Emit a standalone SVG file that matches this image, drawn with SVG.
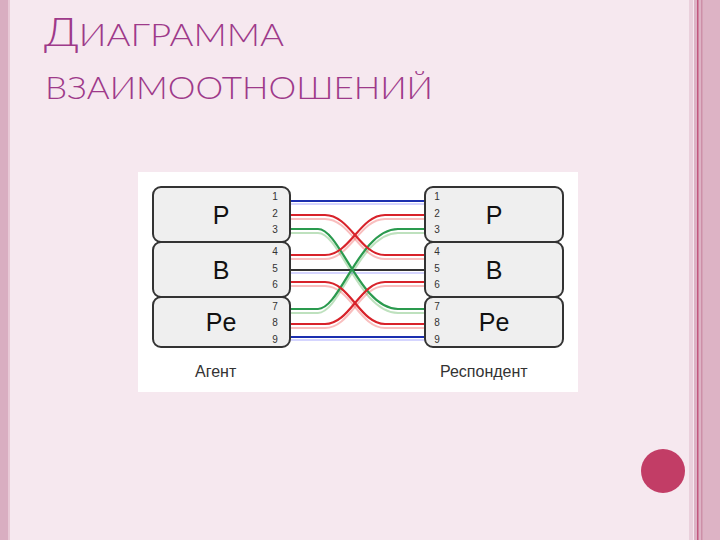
<svg xmlns="http://www.w3.org/2000/svg" width="720" height="540" viewBox="0 0 720 540">
<style>
.t{font-family:"Lato","Open Sans",sans-serif;font-weight:300;fill:#9E3A8A}
.box{fill:#EFEFEF;stroke:#333;stroke-width:2}
.big{font-family:"Liberation Sans",Arial,sans-serif;font-size:25px;fill:#111;text-anchor:middle}
.num{font-family:"Liberation Sans",Arial,sans-serif;font-size:10px;fill:#333;text-anchor:middle}
.lab{font-family:"Liberation Sans",Arial,sans-serif;font-size:16px;fill:#333}
.w{fill:none;stroke-width:2.2}
.s{fill:none;stroke-width:2;opacity:0.35}
</style>
<rect width="720" height="540" fill="#F6E8EF"/>
<rect x="0" y="0" width="8" height="540" fill="#D9AEC1"/>
<rect x="8" y="0" width="2" height="540" fill="#E8C9D6"/>
<rect x="689" y="0" width="4" height="540" fill="#EAD0DC"/>
<rect x="694" y="0" width="26" height="540" fill="#DDB3C5"/>
<rect x="697" y="0" width="1.5" height="540" fill="#C2587E"/>
<rect x="701" y="0" width="1.5" height="540" fill="#CD8FA8"/>
<circle cx="663" cy="471" r="22" fill="#C23D66"/>
<text class="t" x="44" y="46" font-size="32" textLength="240" lengthAdjust="spacingAndGlyphs"><tspan font-size="40">Д</tspan>ИАГРАММА</text>
<text class="t" x="45" y="99" font-size="32" textLength="388" lengthAdjust="spacingAndGlyphs">ВЗАИМООТНОШЕНИЙ</text>
<rect x="138" y="172" width="440" height="220" fill="#fff"/>
<g id="connectors">
<path class="s" stroke="#4a4" d="M290 233H318C340 233 360 313 398 313H425"/>
<path class="s" stroke="#4a4" d="M290 313H318C340 313 360 233 398 233H425"/>
<path class="s" stroke="#e44" d="M290 219H325C350 219 360 259 385 259H425"/>
<path class="s" stroke="#e44" d="M290 259H325C350 259 360 219 385 219H425"/>
<path class="s" stroke="#e44" d="M290 286H325C350 286 360 328 385 328H425"/>
<path class="s" stroke="#e44" d="M290 328H325C350 328 360 286 385 286H425"/>
<path class="s" stroke="#88f" d="M290 204H425M290 340H425M290 273H425"/>
<path class="w" stroke="#1B2FB0" d="M290 201H425M290 337H425"/>
<path class="w" stroke="#333" d="M290 270H425"/>
<path class="w" stroke="#2A9A4E" d="M290 229H318C340 229 360 309 398 309H425"/>
<path class="w" stroke="#2A9A4E" d="M290 309H318C340 309 360 229 398 229H425"/>
<path class="w" stroke="#D8222A" d="M290 215H325C350 215 360 255 385 255H425"/>
<path class="w" stroke="#D8222A" d="M290 255H325C350 255 360 215 385 215H425"/>
<path class="w" stroke="#D8222A" d="M290 282H325C350 282 360 324 385 324H425"/>
<path class="w" stroke="#D8222A" d="M290 324H325C350 324 360 282 385 282H425"/>
</g>
<g id="agent-P"><rect class="box" x="153" y="187" width="137" height="55" rx="8"/><text class="big" x="221" y="224">P</text>
<text class="num" x="275" y="200">1</text><text class="num" x="275" y="217">2</text><text class="num" x="275" y="233">3</text></g>
<g id="agent-B"><rect class="box" x="153" y="242" width="137" height="55" rx="8"/><text class="big" x="221" y="279">B</text>
<text class="num" x="275" y="255">4</text><text class="num" x="275" y="272">5</text><text class="num" x="275" y="288">6</text></g>
<g id="agent-Pe"><rect class="box" x="153" y="297" width="137" height="50" rx="8"/><text class="big" x="221" y="331">Pe</text>
<text class="num" x="275" y="310">7</text><text class="num" x="275" y="326">8</text><text class="num" x="275" y="343">9</text></g>
<g id="resp-P"><rect class="box" x="425" y="187" width="138" height="55" rx="8"/><text class="big" x="494" y="224">P</text>
<text class="num" x="437" y="200">1</text><text class="num" x="437" y="217">2</text><text class="num" x="437" y="233">3</text></g>
<g id="resp-B"><rect class="box" x="425" y="242" width="138" height="55" rx="8"/><text class="big" x="494" y="279">B</text>
<text class="num" x="437" y="255">4</text><text class="num" x="437" y="272">5</text><text class="num" x="437" y="288">6</text></g>
<g id="resp-Pe"><rect class="box" x="425" y="297" width="138" height="50" rx="8"/><text class="big" x="494" y="331">Pe</text>
<text class="num" x="437" y="310">7</text><text class="num" x="437" y="326">8</text><text class="num" x="437" y="343">9</text></g>
<text class="lab" x="195" y="377">Агент</text>
<text class="lab" x="440" y="377">Респондент</text>
</svg>
